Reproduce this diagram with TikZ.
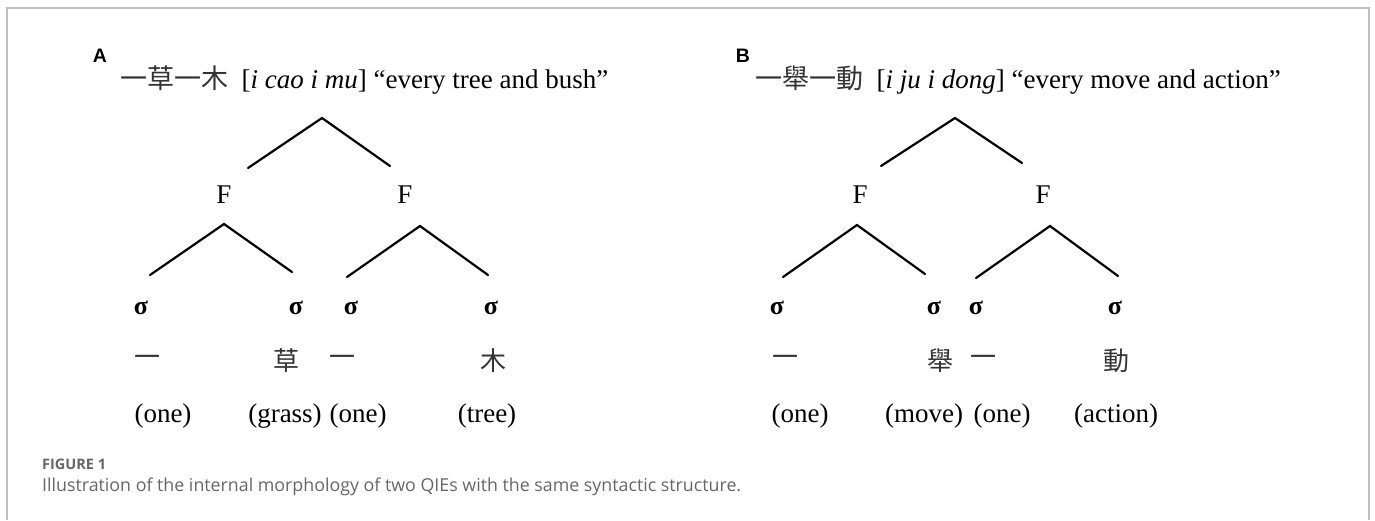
\documentclass[tikz,border=0pt]{standalone}
\usepackage{fontspec}
\setmainfont{Liberation Serif}
\setsansfont{Open Sans}
\newfontfamily\cjk{Noto Sans CJK TC}
\newfontfamily\panelfont{Liberation Sans}

\begin{document}
\begin{tikzpicture}[x=1pt, y=-1pt,
    branch/.style={line width=2.2pt, line cap=round},
    txt/.style={inner sep=0pt, font=\fontsize{27}{32}\selectfont},
    syl/.style={inner sep=0pt, font=\fontsize{26}{30}\selectfont\bfseries},
    hanzi/.style={inner sep=0pt, font=\fontsize{26}{30}\selectfont\cjk, text=black!80},
    panel/.style={inner sep=0pt, font=\fontsize{19.5}{22}\selectfont\panelfont\bfseries},
    captext/.style={inner sep=0pt, anchor=west, text=black!60}]

    \useasboundingbox (0,0) rectangle (1375,520);

    % Frame round the figure
    \draw[black!25, line width=1.2pt] (7,520) -- (7,8) -- (1369,8) -- (1369,520);

    % Panel A
    \node[panel] (labA) at (100,56) {A};
    \node[txt, anchor=west] (titleA) at (120,80)
        {{\cjk\color{black!80}一草一木}\ \ [\textit{i cao i mu}] “every tree and bush”};

    \coordinate (A-top)   at (322,118);
    \coordinate (A-top-l) at (248,168);
    \coordinate (A-top-r) at (390,166);
    \coordinate (A-f1)    at (224,224);
    \coordinate (A-f1-l)  at (150,275);
    \coordinate (A-f1-r)  at (292,272);
    \coordinate (A-f2)    at (420,226);
    \coordinate (A-f2-l)  at (347,277);
    \coordinate (A-f2-r)  at (488,275);

    \draw[branch] (A-top-l) -- (A-top) -- (A-top-r);
    \draw[branch] (A-f1-l) -- (A-f1) -- (A-f1-r);
    \draw[branch] (A-f2-l) -- (A-f2) -- (A-f2-r);

    \node[txt] (A-F1) at (224,195) {F};
    \node[txt] (A-F2) at (405,195) {F};

    \foreach \x [count=\i] in {141,296,351,491}
        \node[syl] (A-s\i) at (\x,308) {σ};

    \node[hanzi] (A-h1) at (147,361) {一};
    \node[hanzi] (A-h2) at (286,361) {草};
    \node[hanzi] (A-h3) at (342,361) {一};
    \node[hanzi] (A-h4) at (493,361) {木};

    \node[txt] (A-g1) at (163,416) {(one)};
    \node[txt] (A-g2) at (285,416) {(grass)};
    \node[txt] (A-g3) at (358,416) {(one)};
    \node[txt] (A-g4) at (487,416) {(tree)};

    % Panel B
    \node[panel] (labB) at (743,56) {B};
    \node[txt, anchor=west] (titleB) at (755,80)
        {{\cjk\color{black!80}一舉一動}\ \ [\textit{i ju i dong}] “every move and action”};

    \coordinate (B-top)   at (955,118);
    \coordinate (B-top-l) at (881,166);
    \coordinate (B-top-r) at (1022,163);
    \coordinate (B-f1)    at (857,225);
    \coordinate (B-f1-l)  at (783,277);
    \coordinate (B-f1-r)  at (925,274);
    \coordinate (B-f2)    at (1050,226);
    \coordinate (B-f2-l)  at (976,278);
    \coordinate (B-f2-r)  at (1118,276);

    \draw[branch] (B-top-l) -- (B-top) -- (B-top-r);
    \draw[branch] (B-f1-l) -- (B-f1) -- (B-f1-r);
    \draw[branch] (B-f2-l) -- (B-f2) -- (B-f2-r);

    \node[txt] (B-F1) at (860,195) {F};
    \node[txt] (B-F2) at (1043,195) {F};

    \foreach \x [count=\i] in {777,934,976,1115}
        \node[syl] (B-s\i) at (\x,308) {σ};

    \node[hanzi] (B-h1) at (785,361) {一};
    \node[hanzi] (B-h2) at (940,361) {舉};
    \node[hanzi] (B-h3) at (983,361) {一};
    \node[hanzi] (B-h4) at (1116,361) {動};

    \node[txt] (B-g1) at (800,416) {(one)};
    \node[txt] (B-g2) at (924,416) {(move)};
    \node[txt] (B-g3) at (1002,416) {(one)};
    \node[txt] (B-g4) at (1116,416) {(action)};

    % Caption
    \node[captext, font=\fontsize{14.5}{16}\selectfont\sffamily\bfseries] (figno) at (42,464) {FIGURE 1};
    \node[captext, font=\fontsize{17.8}{20}\selectfont\sffamily] (caption) at (42,487)
        {Illustration of the internal morphology of two QIEs with the same syntactic structure.};

\end{tikzpicture}
\end{document}
